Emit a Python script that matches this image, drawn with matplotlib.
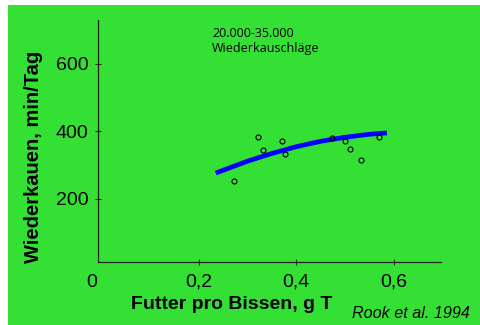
import matplotlib.pyplot as plt
from matplotlib.patches import Rectangle
from matplotlib.transforms import blended_transform_factory

plt.rcParams['font.family'] = ['Liberation Sans', 'DejaVu Sans']

# measured points (Futter pro Bissen, g T  vs  Wiederkauen, min/Tag)
futter = [0.272, 0.321, 0.331, 0.370, 0.377, 0.473, 0.501, 0.510, 0.532, 0.570]
kauen = [251, 384, 343, 370, 331, 379, 370, 346, 316, 384]

# fitted curve
fit_x = [0.235, 0.30, 0.35, 0.40, 0.45, 0.50, 0.55, 0.586]
fit_y = [276, 311, 334, 354, 370, 382, 391, 395]

xticks = [0.2, 0.4, 0.6]
xticklabels = ['0,2', '0,4', '0,6']
yticks = [200, 400, 600]

green = '#33e033'

fig = plt.figure(figsize=(4.81, 3.25), dpi=100, facecolor='white')
bg = Rectangle((8 / 481, 0), 1, 1 - 5 / 325, transform=fig.transFigure,
               facecolor=green, edgecolor='none', zorder=-10)
fig.add_artist(bg)

ax = fig.add_axes([0.2031, 0.1938, 0.7137, 0.7447])
ax.set_facecolor('none')
for s in ['top', 'right']:
    ax.spines[s].set_visible(False)
for s in ['left', 'bottom']:
    ax.spines[s].set_color('#222222')
    ax.spines[s].set_linewidth(0.9)

ax.plot(fit_x, fit_y, color='#0000ff', lw=3.4, solid_capstyle='butt', zorder=2)
ax.plot(futter, kauen, 'o', ms=3.6, mfc='none', mec='black', mew=0.8, zorder=3)

ax.set_xlim(-0.007, 0.697)
ax.set_ylim(12, 730)
ax.set_xticks(xticks)
ax.set_xticklabels(xticklabels)
ax.set_yticks(yticks)
ax.tick_params(direction='inout', length=5, width=0.8, color='#222222',
               labelsize=14)
ax.tick_params(axis='y', pad=4)
ax.tick_params(axis='x', pad=6)

tr = blended_transform_factory(ax.transData, ax.transAxes)
ax.text(-0.0195, -0.05, '0', transform=tr, ha='center', va='top', fontsize=14)

ax.set_xlabel('Futter pro Bissen, g T', fontsize=14, fontweight='bold')
ax.set_ylabel('Wiederkauen, min/Tag', fontsize=14.5, fontweight='bold')
ax.xaxis.set_label_coords(0.39, -0.14)
ax.yaxis.set_label_coords(-0.159, 0.434)

ax.text(212 / 481, 1 - 41 / 325, '20.000-35.000\nWiederkauschläge',
        transform=fig.transFigure, fontsize=9, family='Open Sans',
        ha='left', va='center', linespacing=1.25)
fig.text(352 / 481, 1 - 313 / 325, 'Rook et al. 1994', fontsize=11.6,
         style='italic', ha='left', va='center')

fig.savefig('out.png', dpi=100, facecolor='white')
